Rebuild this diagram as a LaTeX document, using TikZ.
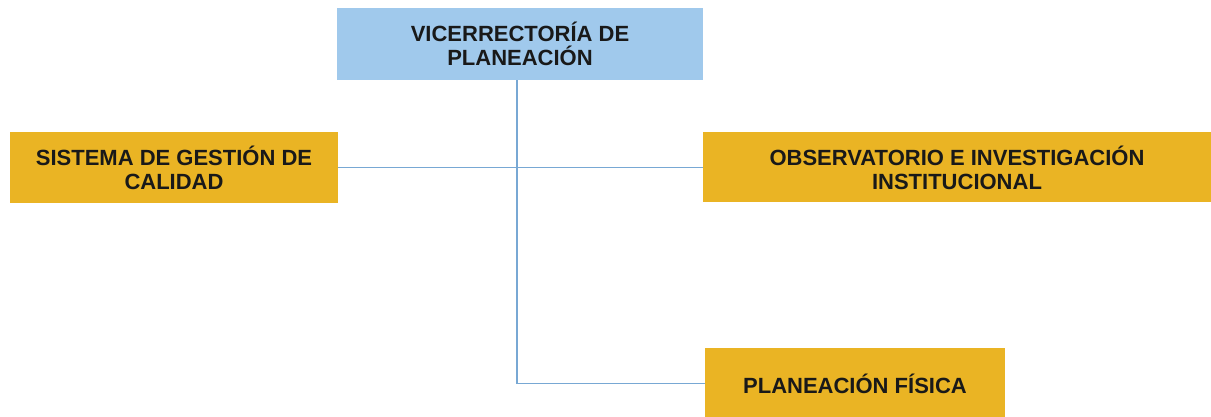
\documentclass[tikz,border=0pt]{standalone}
\usepackage{fontspec}
\setmainfont{Liberation Sans}
\definecolor{boxblue}{RGB}{160,201,236}
\definecolor{boxgold}{RGB}{234,180,36}
\definecolor{linkblue}{RGB}{120,168,212}
\begin{document}
\begin{tikzpicture}[x=1pt,y=-1pt,
  unit/.style={inner sep=0pt, align=center, font=\fontsize{22}{24}\selectfont\bfseries, text=black!90},
  headbox/.style={unit, fill=boxblue},
  deptbox/.style={unit, fill=boxgold},
  link/.style={draw=linkblue, line width=1.4pt}]
\useasboundingbox (0,0) rectangle (1211,417);
\clip (0,0) rectangle (1211,417);
\fill[white] (0,0) rectangle (1211,417);
\node[headbox, minimum width=366pt, minimum height=72pt] (top) at (520,44) {VICERRECTORÍA DE\\PLANEACIÓN};
\node[deptbox, minimum width=328pt, minimum height=71pt] (sgc) at (174,167.5) {SISTEMA DE GESTIÓN DE\\CALIDAD};
\node[deptbox, minimum width=508pt, minimum height=70pt] (obs) at (957,167.5) {OBSERVATORIO E INVESTIGACIÓN\\INSTITUCIONAL};
\node[deptbox, minimum width=300pt, minimum height=72pt] (pf) at (855,383.5) {PLANEACIÓN FÍSICA};
\coordinate (spine) at (517,0);
\draw[link] (sgc.east) -- (obs.west);
\draw[link] (spine |- top.south) -- (spine |- pf.west) -- (pf.west);
\end{tikzpicture}
\end{document}
